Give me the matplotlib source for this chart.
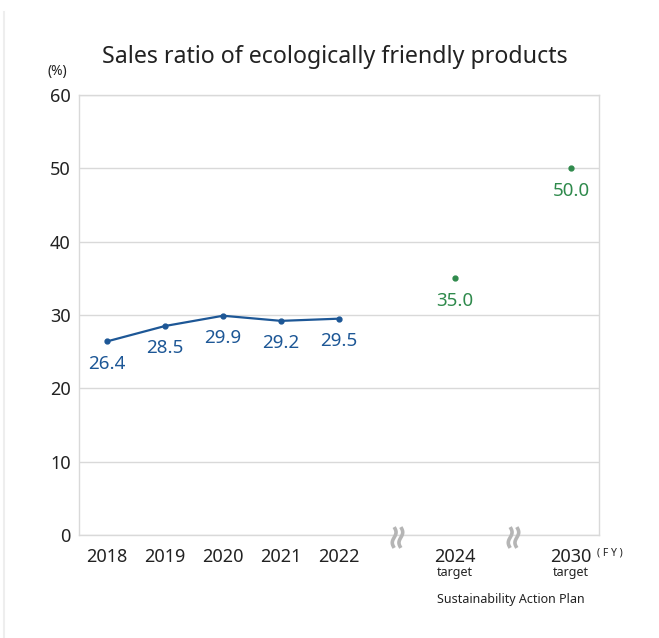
import matplotlib
matplotlib.use("Agg")
import numpy as np
import matplotlib.pyplot as plt
from matplotlib.lines import Line2D
from matplotlib.path import Path

# ---- data ----
years = ['2018', '2019', '2020', '2021', '2022']
values = [26.4, 28.5, 29.9, 29.2, 29.5]
target_years = ['2024', '2030']
target_values = [35.0, 50.0]
y_ticks = [0, 10, 20, 30, 40, 50, 60]

title = 'Sales ratio of ecologically friendly products'

BLUE = '#1d5796'
GREEN = '#2f8a4c'
GRID = '#d9d9d9'
TXT = '#222222'

plt.rcParams['font.family'] = ['Noto Sans', 'DejaVu Sans']

fig = plt.figure(figsize=(6.59, 6.38), dpi=100)
ax = fig.add_axes([79/659, 1-535/638, (599-79)/659, (535-95)/638])

x_act = list(range(len(years)))
x_tgt = [len(years) + 1, len(years) + 3]
x_brk = [len(years), len(years) + 2]

ax.plot(x_act, values, color=BLUE, lw=1.6, marker='o', ms=3.5, zorder=3)
for x, v in zip(x_act, values):
    ax.annotate(f'{v:.1f}', (x, v), xytext=(0, -16), textcoords='offset points',
                ha='center', va='center', fontsize=13.5, color=BLUE)

ax.plot(x_tgt, target_values, ls='none', color=GREEN, marker='o', ms=3.5, zorder=3)
for x, v in zip(x_tgt, target_values):
    ax.annotate(f'{v:.1f}', (x, v), xytext=(0, -16), textcoords='offset points',
                ha='center', va='center', fontsize=13.5, color=GREEN)

ax.set_ylim(0, 60)
ax.set_xlim(-0.483, 8.48)
ax.set_yticks(y_ticks)
ax.set_yticklabels([str(t) for t in y_ticks], fontsize=13, color=TXT)
ax.set_xticks(x_act + x_tgt)
ax.set_xticklabels(years + target_years, fontsize=13, color=TXT)
ax.tick_params(length=0, pad=6)
ax.tick_params(axis='x', pad=9)
ax.grid(axis='y', color=GRID, lw=1)
ax.set_axisbelow(True)
for s in ax.spines.values():
    s.set_color(GRID)
    s.set_linewidth(1)

# break marks (decorative squiggle marker)
t = np.linspace(0, 1, 30)
verts, codes = [], []
for dx in (-0.16, 0.16):
    xs = dx + 0.09 * np.sin(2 * np.pi * t)
    ys = 0.5 - t
    for i, (a, b) in enumerate(zip(xs, ys)):
        verts.append((a, b))
        codes.append(Path.MOVETO if i == 0 else Path.LINETO)
squiggle = Path(verts, codes)
ax.plot(x_brk, [-0.3, -0.3], ls='none', marker=squiggle, ms=15, mfc='none',
        mec='#b5b5b5', mew=2.6, clip_on=False, zorder=5)

for x in x_tgt:
    ax.text(x, -0.085, 'target', transform=ax.get_xaxis_transform(), ha='center', va='center',
            fontsize=9, color=TXT, fontweight='bold')

ax.text(x_tgt[1] + 0.67, -0.04, '( F Y )', transform=ax.get_xaxis_transform(),
        ha='center', va='center', fontsize=7.5, color=TXT, fontweight='semibold')

fig.text(511/659, 1-600/638, 'Sustainability Action Plan', ha='center', va='center',
         fontsize=9, color=TXT, fontweight='semibold')

fig.text(57/659, 1-72/638, '(%)', ha='center', va='center', fontsize=10, color=TXT)
fig.text(335/659, 1-57/638, title, ha='center', va='center', fontsize=16.7, color=TXT)

fig.add_artist(Line2D([4/659, 4/659], [0, 1-12/638], transform=fig.transFigure,
                      color='#eeeeee', lw=1.5))

fig.savefig('out.png', dpi=100, facecolor='white')
